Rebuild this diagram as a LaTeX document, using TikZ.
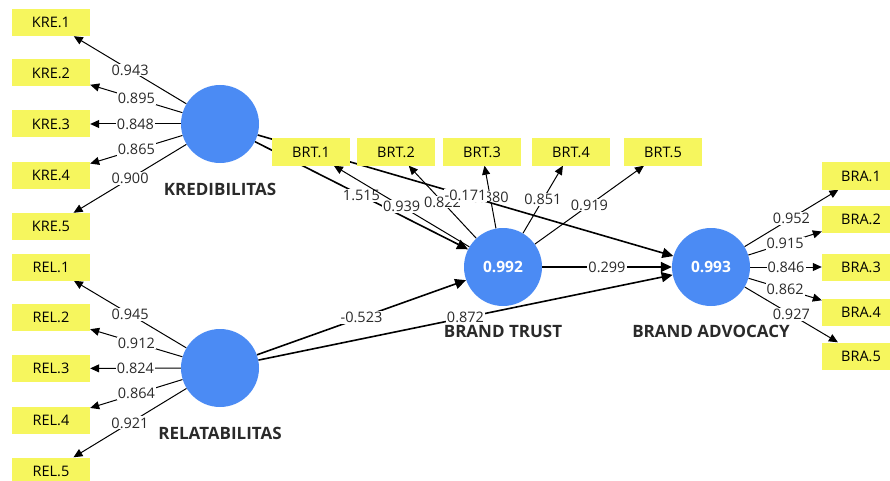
\documentclass[tikz,border=0pt]{standalone}
\usepackage{fontspec}
\setmainfont{Open Sans}
\usetikzlibrary{arrows.meta,backgrounds}
\definecolor{PlsYellow}{HTML}{F6F65E}
\definecolor{PlsBlue}{HTML}{4B8BF4}
\definecolor{PlsTxt}{HTML}{2A2A2A}

\begin{document}
\begin{tikzpicture}[
            x=1pt, y=-1pt,
            font=\fontsize{14.5}{17}\selectfont,
            >={Triangle[length=9pt,width=8pt]},
            item/.style={
                    fill=PlsYellow,
                    minimum width=78pt,
                    minimum height=27pt,
                    inner sep=0pt
                },
            latent/.style={
                    circle,
                    fill=PlsBlue,
                    minimum size=78pt,
                    inner sep=0pt,
                    text=white,
                    font=\fontsize{15.5}{18}\selectfont\bfseries
                },
            cname/.style={font=\fontsize{17}{20}\selectfont\bfseries, text=PlsTxt},
            loading/.style={->, line width=1pt, draw=black},
            structural/.style={->, line width=1.6pt, >={Triangle[length=11pt,width=10pt]}},
            coef/.style={fill=white, inner sep=1pt, text=PlsTxt, pos=0.5},
        ]

        \useasboundingbox (0,0) rectangle (890,481);

        % Constructs
        \node[latent] (kred) at (220,124) {};
        \node[latent] (rela) at (220,368) {};
        \node[latent] (trust) at (503,267) {0.992};
        \node[latent] (advo) at (711,267) {0.993};

        % Indicators
        \foreach \i/\y in {1/22.5, 2/73, 3/124, 4/175.5, 5/226.5}
            \node[item] (kre\i) at (51,\y) {KRE.\i};
        \foreach \i/\y in {1/267, 2/317.5, 3/368.5, 4/420, 5/471}
            \node[item] (rel\i) at (51,\y) {REL.\i};
        \foreach \i/\x in {1/311, 2/396, 3/482, 4/571, 5/663}
            \node[item] (brt\i) at (\x,152) {BRT.\i};
        \foreach \i/\y in {1/176, 2/219, 3/267, 4/312, 5/356}
            \node[item] (bra\i) at (861,\y) {BRA.\i};

        \begin{pgfonlayer}{background}
            % Construct names
            \node[cname] (kredname) at (220,189) {KREDIBILITAS};
            \node[cname] (relaname) at (220,433) {RELATABILITAS};
            \node[cname] (trustname) at (503,331) {BRAND TRUST};
            \node[cname] (advoname) at (711,331) {BRAND ADVOCACY};

            % Outer loadings
            \foreach \i/\v in {1/0.943, 2/0.895, 3/0.848, 4/0.865, 5/0.900}
                \draw[loading] (kred) -- node[coef] {\v} (kre\i);
            \foreach \i/\v in {1/0.945, 2/0.912, 3/0.824, 4/0.864, 5/0.921}
                \draw[loading] (rela) -- node[coef] {\v} (rel\i);
            \foreach \i/\v in {1/0.952, 2/0.915, 3/0.846, 4/0.862, 5/0.927}
                \draw[loading] (advo) -- node[coef] {\v} (bra\i);

            % Paths (drawn in the order the labels overlap)
            \draw[structural] (kred) -- node[coef] {1.515} (trust);
            \foreach \i/\v in {1/0.939, 2/0.822, 3/0.880, 4/0.851, 5/0.919}
                \draw[loading] (trust) -- node[coef] {\v} (brt\i);
            \draw[structural] (kred) -- node[coef] {-0.171} (advo);
            \draw[structural] (rela) -- node[coef] {-0.523} (trust);
            \draw[structural] (rela) -- node[coef] {0.872} (advo);
            \draw[structural] (trust) -- node[coef] {0.299} (advo);
        \end{pgfonlayer}

    \end{tikzpicture}
\end{document}
